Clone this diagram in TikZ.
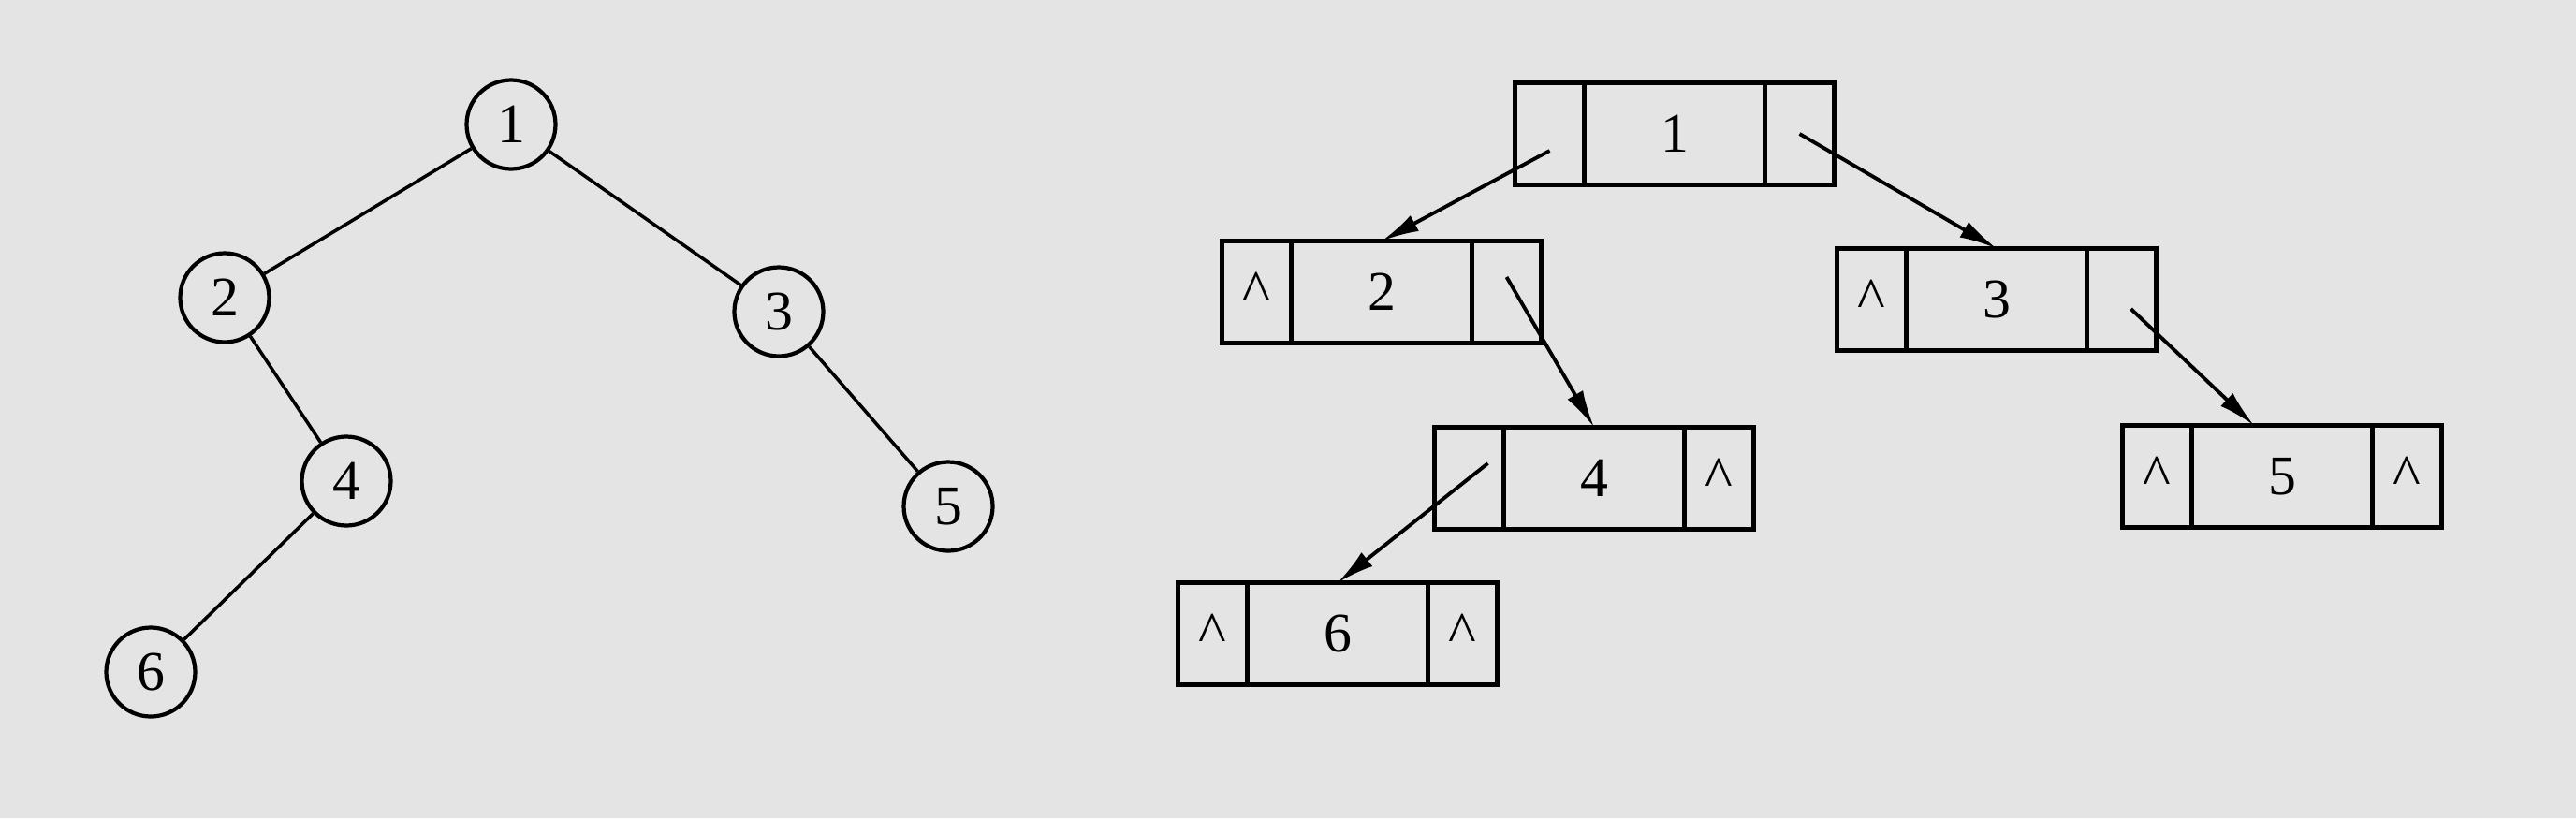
\documentclass[tikz,border=0pt]{standalone}
\usepackage{fontspec}
\setmainfont{Liberation Serif}
\usetikzlibrary{positioning,arrows.meta}
\definecolor{paper}{RGB}{228,228,228}

\begin{document}
\begin{tikzpicture}[tree_node/.style={circle,draw,line width=1.2pt,inner sep=0pt,minimum size=0.95cm,font=\fontsize{17}{20}\selectfont},
	data_cell/.style={draw,line width=1.3pt,outer sep=0pt,minimum width=1.93cm,minimum height=1.09cm,font=\fontsize{17}{20}\selectfont},
	ptr_cell/.style={draw,line width=1.3pt,outer sep=0pt,minimum width=0.74cm,minimum height=1.09cm,font=\fontsize{18}{20}\selectfont},
	link/.style={line width=1.1pt,-{Latex[length=4mm,width=1.9mm]}}]

	\fill[paper] (0,0) rectangle (27.52,-8.74);

	% binary tree
	\node[tree_node] (1)   at (5.46,-1.33) {1};
	\node[tree_node] (2)   at (2.40,-3.18) {2};
	\node[tree_node] (3)   at (8.32,-3.33) {3};
	\node[tree_node] (4)   at (3.70,-5.14) {4};
	\node[tree_node] (5)   at (10.13,-5.41) {5};
	\node[tree_node] (6)   at (1.61,-7.18) {6};

	\draw[line width=1pt] (1) -- (2) -- (4) -- (6);
	\draw[line width=1pt] (1) -- (3) -- (5);

	% linked representation
	\node[data_cell] (b1)   at (17.89,-1.43) {1};
	\node[ptr_cell, left=0pt of b1] (b1l) {};
	\node[ptr_cell, right=0pt of b1] (b1r) {};

	\node[data_cell] (b2)   at (14.76,-3.12) {2};
	\node[ptr_cell, left=0pt of b2] (b2l) {\textasciicircum};
	\node[ptr_cell, right=0pt of b2] (b2r) {};

	\node[data_cell] (b3)   at (21.33,-3.20) {3};
	\node[ptr_cell, left=0pt of b3] (b3l) {\textasciicircum};
	\node[ptr_cell, right=0pt of b3] (b3r) {};

	\node[data_cell] (b4)   at (17.03,-5.11) {4};
	\node[ptr_cell, left=0pt of b4] (b4l) {};
	\node[ptr_cell, right=0pt of b4] (b4r) {\textasciicircum};

	\node[data_cell] (b5)   at (24.38,-5.09) {5};
	\node[ptr_cell, left=0pt of b5] (b5l) {\textasciicircum};
	\node[ptr_cell, right=0pt of b5] (b5r) {\textasciicircum};

	\node[data_cell] (b6)   at (14.29,-6.77) {6};
	\node[ptr_cell, left=0pt of b6] (b6l) {\textasciicircum};
	\node[ptr_cell, right=0pt of b6] (b6r) {\textasciicircum};

	\draw[link] ([yshift=-0.18cm]b1l.center) -- (b2.north);
	\draw[link] (b1r.center) -- (b3.north);
	\draw[link] ([yshift=0.16cm]b2r.center) -- (b4.north);
	\draw[link] ([xshift=0.1cm,yshift=-0.1cm]b3r.center) -- ([xshift=-0.3cm]b5.north);
	\draw[link] ([xshift=0.2cm,yshift=0.16cm]b4l.center) -- (b6.north);

\end{tikzpicture}
\end{document}
